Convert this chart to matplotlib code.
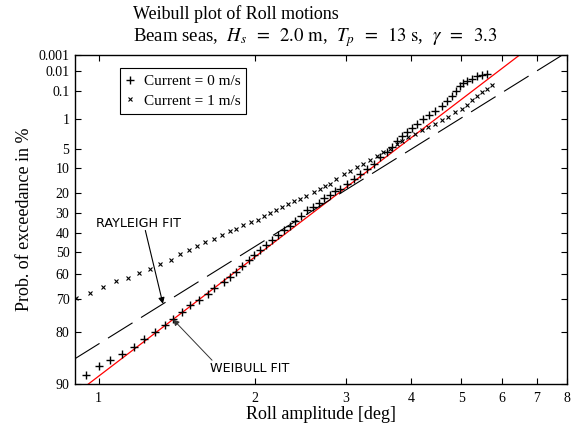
import numpy as np
import matplotlib
matplotlib.use('Agg')
import matplotlib.pyplot as plt
from matplotlib.ticker import NullLocator

plt.rcParams['font.family'] = 'Liberation Serif'
plt.rcParams['mathtext.fontset'] = 'stix'

# roll amplitude [deg] vs. probability of exceedance [%], no current
amp_c0 = [0.946, 1.000, 1.053, 1.109, 1.168, 1.225, 1.282, 1.340, 1.391, 1.448,
          1.502, 1.558, 1.627, 1.670, 1.741, 1.788, 1.842, 1.889, 1.945, 1.995,
          2.049, 2.104, 2.158, 2.213, 2.273, 2.334, 2.393, 2.458, 2.521, 2.589,
          2.654, 2.722, 2.795, 2.858, 2.922, 3.010, 3.100, 3.193, 3.289, 3.388,
          3.490, 3.595, 3.675, 3.758, 3.842, 3.928, 4.017, 4.117, 4.228, 4.342,
          4.454, 4.588, 4.691, 4.795, 4.888, 4.975, 5.049, 5.140, 5.242, 5.359,
          5.479, 5.602]
pex_c0 = [88.7, 87.3, 86.2, 85.0, 83.5, 81.9, 80.0, 78.3, 76.6, 74.4,
          72.2, 70.3, 68.1, 65.9, 63.6, 61.5, 59.3, 56.8, 54.0, 51.6,
          49.1, 46.6, 44.1, 41.5, 38.9, 36.7, 33.7, 31.1, 28.5, 26.9,
          24.7, 22.3, 20.7, 19.2, 18.2, 16.0, 14.0, 12.1, 10.4, 8.76,
          6.90, 5.67, 4.58, 3.37, 2.63, 2.09, 1.67, 1.31, 0.99, 0.743,
          0.557, 0.380, 0.252, 0.162, 0.101, 0.0609, 0.0427, 0.0354, 0.0291, 0.0197,
          0.0174, 0.0160]

# same, current 1 m/s
amp_c1 = [0.906, 0.963, 1.020, 1.080, 1.137, 1.198, 1.258, 1.315, 1.380, 1.437,
          1.490, 1.546, 1.605, 1.670, 1.729, 1.788, 1.842, 1.897, 1.966, 2.025,
          2.079, 2.142, 2.200, 2.256, 2.313, 2.375, 2.439, 2.513, 2.596, 2.666,
          2.734, 2.795, 2.871, 2.966, 3.055, 3.147, 3.240, 3.338, 3.439, 3.541,
          3.648, 3.758, 3.842, 3.957, 4.075, 4.198, 4.322, 4.454, 4.588, 4.724,
          4.867, 5.013, 5.125, 5.242, 5.359, 5.479, 5.602, 5.728]
pex_c1 = [69.6, 68.0, 65.6, 63.3, 61.9, 59.6, 57.8, 55.5, 53.7, 51.1,
          49.1, 46.9, 45.0, 43.2, 41.5, 39.3, 38.0, 36.3, 34.6, 33.3,
          31.6, 29.9, 28.2, 26.9, 25.2, 23.9, 22.8, 21.2, 19.7, 18.2,
          16.7, 16.0, 14.0, 12.2, 10.9, 9.77, 8.67, 7.52, 6.46, 5.62,
          4.85, 3.97, 3.37, 2.84, 2.36, 1.95, 1.65, 1.34, 1.07, 0.851,
          0.622, 0.480, 0.366, 0.242, 0.162, 0.111, 0.083, 0.0578]

# fitted distributions: shape k, scale [deg]
weibull_k, weibull_scale = 2.449, 2.39
rayleigh_k, rayleigh_scale = 2.0, 2.31

ytick_pct = [90, 80, 70, 60, 50, 40, 30, 20, 10, 5, 1, 0.1, 0.01, 0.001]
ytick_txt = ['90', '80', '70', '60', '50', '40', '30', '20', '10', '5',
             '1', '0.1', '0.01', '0.001']
xtick_vals = [1, 2, 3, 4, 5, 6, 7, 8]


def weib(p):
    # weibull paper ordinate, p in percent
    return np.log10(-np.log(np.asarray(p, dtype=float) / 100.0))


def exceed(x, k, lam):
    return 100.0 * np.exp(-(np.asarray(x) / lam) ** k)


fig = plt.figure(figsize=(5.76, 4.26), dpi=100)
ax = fig.add_axes([75 / 576, 1 - 384.3 / 426, 492 / 576, 329.3 / 426])

xs = np.logspace(np.log10(0.9), np.log10(8), 400)
ax.plot(xs, weib(exceed(xs, weibull_k, weibull_scale)), color='red', lw=0.9)
ax.plot(xs, weib(exceed(xs, rayleigh_k, rayleigh_scale)), color='black',
        lw=0.8, dashes=(26, 9))
ax.plot(amp_c0, weib(pex_c0), '+', color='black', ms=6, mew=1.0,
        label='Current = 0 m/s')
ax.plot(amp_c1, weib(pex_c1), 'x', color='black', ms=3.2, mew=0.8,
        label='Current = 1 m/s')

ax.set_xscale('log')
ax.set_xlim(0.9, 8)
ax.set_xticks(xtick_vals)
ax.set_xticklabels([str(v) for v in xtick_vals])
ax.xaxis.set_minor_locator(NullLocator())
ax.set_ylim(weib(90), weib(0.001))
ax.set_yticks(weib(ytick_pct))
ax.set_yticklabels(ytick_txt)

ax.tick_params(direction='in', top=True, right=True, length=4, width=0.8,
               labelsize=10)
ax.tick_params(axis='y', pad=4)
ax.tick_params(axis='x', pad=5.5)
for s in ax.spines.values():
    s.set_linewidth(1.0)

ax.set_xlabel('Roll amplitude [deg]', fontsize=13, labelpad=1)
ax.set_ylabel('Prob. of exceedance in %', fontsize=13, labelpad=4)

fig.text(133 / 576, 1 - 19 / 426, 'Weibull plot of Roll motions',
         fontsize=13, ha='left', va='baseline')
fig.text(133 / 576, 1 - 41 / 426,
         r'Beam seas,  $H_s\;\;=\;\;2.0\ \mathrm{m}$,  '
         r'$T_p\;\;=\;\;13\ \mathrm{s}$,  $\gamma\;\;=\;\;3.3$',
         fontsize=13.5, ha='left', va='baseline')

leg = ax.legend(loc='upper left', bbox_to_anchor=(0.0915, 0.96),
                borderaxespad=0, fontsize=11, numpoints=1, fancybox=False,
                framealpha=1, edgecolor='black', borderpad=0.4,
                handlelength=0.55, handletextpad=0.6, labelspacing=0.4)
leg.get_frame().set_linewidth(0.8)

# labels for the two fitted curves
ray_x = 1.33
ax.annotate('', xy=(ray_x, weib(exceed(ray_x, rayleigh_k, rayleigh_scale))),
            xytext=(1.23, weib(38.9)),
            arrowprops=dict(arrowstyle='-|>', color='black', lw=0.8,
                            mutation_scale=9, shrinkA=0, shrinkB=0))
ax.text(0.9885, weib(35.1), 'RAYLEIGH FIT', family='DejaVu Sans',
        fontsize=9.2, ha='left', va='center')

wei_x = 1.391
ax.annotate('', xy=(wei_x, weib(exceed(wei_x, weibull_k, weibull_scale))),
            xytext=(1.654, weib(86.2)),
            arrowprops=dict(arrowstyle='-|>', color='#333333', lw=0.7,
                            mutation_scale=9, shrinkA=0, shrinkB=0))
ax.text(1.641, weib(87.6), 'WEIBULL FIT', family='DejaVu Sans',
        fontsize=9.2, ha='left', va='center')

fig.savefig('out.png', dpi=100)
